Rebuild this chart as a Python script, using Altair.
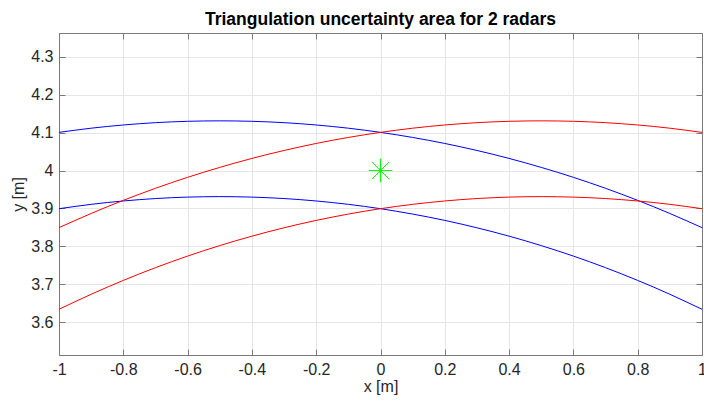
import altair as alt
import pandas as pd

# x positions (m)
x_vals = [-1.0, -0.9, -0.8, -0.7, -0.6, -0.5, -0.4, -0.3, -0.2, -0.1, 0.0,
          0.1, 0.2, 0.3, 0.4, 0.5, 0.6, 0.7, 0.8, 0.9, 1.0]
# radar 1 (blue) outer / inner range arcs
blue_outer = [4.1007, 4.1117, 4.1202, 4.1263, 4.1299, 4.1311, 4.1299, 4.1263, 4.1202, 4.1117, 4.1007,
              4.0873, 4.0714, 4.0529, 4.0319, 4.0082, 3.9820, 3.9530, 3.9212, 3.8866, 3.8492]
blue_inner = [3.8992, 3.9107, 3.9196, 3.9260, 3.9298, 3.9311, 3.9298, 3.9260, 3.9196, 3.9107, 3.8992,
              3.8850, 3.8683, 3.8488, 3.8267, 3.8018, 3.7741, 3.7435, 3.7099, 3.6733, 3.6337]
# radar 2 (red) outer / inner range arcs
red_outer = [3.8492, 3.8866, 3.9212, 3.9530, 3.9820, 4.0082, 4.0319, 4.0529, 4.0714, 4.0873, 4.1007,
             4.1117, 4.1202, 4.1263, 4.1299, 4.1311, 4.1299, 4.1263, 4.1202, 4.1117, 4.1007]
red_inner = [3.6337, 3.6733, 3.7099, 3.7435, 3.7741, 3.8018, 3.8267, 3.8488, 3.8683, 3.8850, 3.8992,
             3.9107, 3.9196, 3.9260, 3.9298, 3.9311, 3.9298, 3.9260, 3.9196, 3.9107, 3.8992]
# target
target_x = [0.0]
target_y = [4.0]

x_ticks = [-1, -0.8, -0.6, -0.4, -0.2, 0, 0.2, 0.4, 0.6, 0.8, 1]
y_ticks = [3.6, 3.7, 3.8, 3.9, 4.0, 4.1, 4.2, 4.3]
x_domain = [-1, 1]
y_domain = [3.513, 4.363]

rows = []
for name, radar, ys in [("b_out", "r1", blue_outer), ("b_in", "r1", blue_inner),
                        ("r_out", "r2", red_outer), ("r_in", "r2", red_inner)]:
    for xv, yv in zip(x_vals, ys):
        rows.append({"x": xv, "y": yv, "arc": name, "radar": radar})
df = pd.DataFrame(rows)
df_t = pd.DataFrame({"x": target_x, "y": target_y})

W, H = 643, 322
FONT = "Liberation Sans"
AX = "#7a7a7a"
LAB = "#262626"
FS = 16
lbl = "datum.value < 0 ? '-' + format(-datum.value, '~g') : format(datum.value, '~g')"

xs = alt.Scale(domain=x_domain, nice=False, zero=False)
ys = alt.Scale(domain=y_domain, nice=False, zero=False)

lines = alt.Chart(df).mark_line(strokeWidth=1, interpolate="natural").encode(
    x=alt.X("x:Q", scale=xs, title="x [m]",
            axis=alt.Axis(values=x_ticks, labelExpr=lbl, grid=True, gridColor="#e6e6e6",
                          domainColor=AX, tickSize=0, labelPadding=6, labelFontSize=FS,
                          labelColor=LAB, labelFont=FONT, titleFont=FONT, titleFontSize=FS,
                          titleFontWeight="normal", titleColor=LAB, titlePadding=1,
                          labelFlush=False)),
    y=alt.Y("y:Q", scale=ys, title="y [m]",
            axis=alt.Axis(values=y_ticks, labelExpr=lbl, grid=True, gridColor="#e6e6e6",
                          domainColor=AX, tickSize=0, labelPadding=6, labelFontSize=FS,
                          labelColor=LAB, labelFont=FONT, titleFont=FONT, titleFontSize=FS,
                          titleFontWeight="normal", titleColor=LAB, titlePadding=4,
                          labelFlush=False)),
    color=alt.Color("radar:N", scale=alt.Scale(domain=["r1", "r2"], range=["#0000ff", "#ff0000"]),
                    legend=None),
    detail="arc:N",
    order="x:Q",
)

star_path = "M0,-1L0,1M-1,0L1,0M-0.72,-0.72L0.72,0.72M-0.72,0.72L0.72,-0.72"
star = alt.Chart(df_t).mark_point(shape=star_path, size=560, filled=False,
                                  stroke="#00ff00", strokeWidth=1, opacity=1).encode(
    x=alt.X("x:Q", scale=xs, title=None,
            axis=alt.Axis(orient="top", offset=-H, values=x_ticks, labels=False, grid=False,
                          domain=False, tickColor=AX, tickSize=6)),
    y=alt.Y("y:Q", scale=ys, title=None,
            axis=alt.Axis(orient="right", offset=-W, values=y_ticks, labels=False, grid=False,
                          domain=False, tickColor=AX, tickSize=6)),
)

box = alt.Chart(df_t).mark_point(opacity=0).encode(
    x=alt.X("x:Q", scale=xs, title=None,
            axis=alt.Axis(orient="bottom", offset=-H, values=x_ticks, labels=False, grid=False,
                          domain=True, domainColor=AX, tickColor=AX, tickSize=6)),
    y=alt.Y("y:Q", scale=ys, title=None,
            axis=alt.Axis(orient="left", offset=-W, values=y_ticks, labels=False, grid=False,
                          domain=True, domainColor=AX, tickColor=AX, tickSize=6)),
)

chart = alt.layer(lines, box, star).resolve_axis(x="independent", y="independent").properties(
    width=W, height=H,
    title=alt.TitleParams("Triangulation uncertainty area for 2 radars", font=FONT, fontSize=17.5,
                          fontWeight="bold", color="#000000", offset=4),
    autosize=alt.AutoSizeParams(type="none"),
    padding={"left": 59, "top": 33, "right": 2, "bottom": 46},
).configure_view(stroke=None).configure(background="white")

chart.save("out.html", embed_options={"renderer": "svg", "actions": False})
